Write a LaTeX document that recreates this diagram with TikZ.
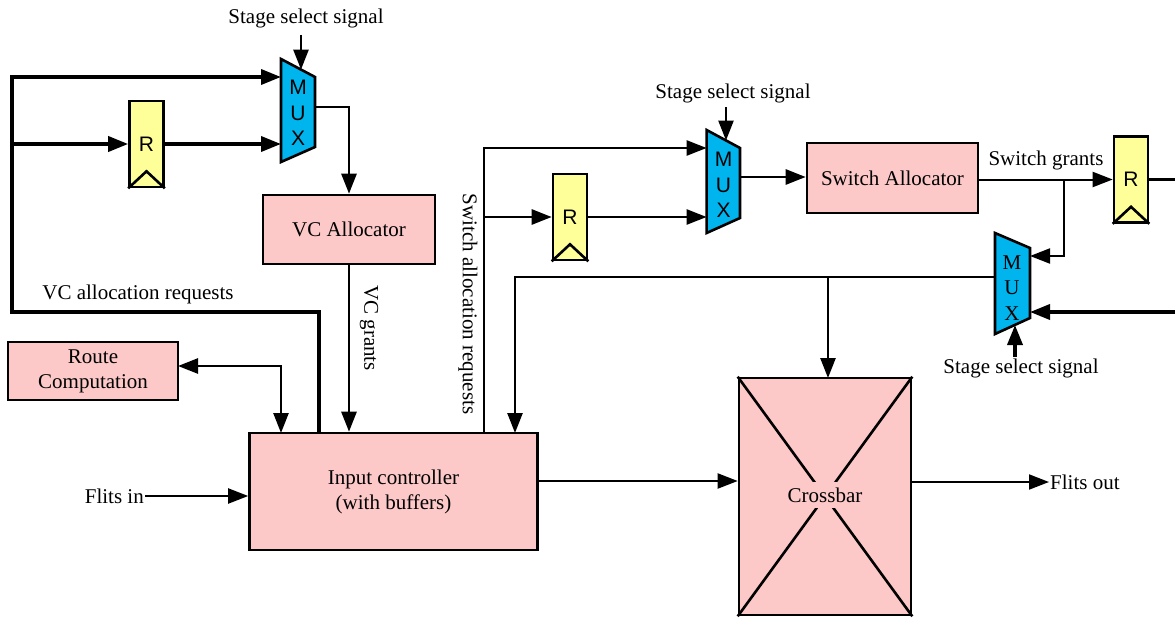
\documentclass[tikz,border=0pt]{standalone}
\usepackage{fontspec}
\setmainfont{Liberation Serif}
\newfontfamily\sansf{Liberation Sans}
\usetikzlibrary{arrows.meta,calc}
\definecolor{boxpink}{RGB}{252,200,200}
\definecolor{muxblue}{RGB}{0,180,238}
\definecolor{regyellow}{RGB}{255,255,153}
\begin{document}
\begin{tikzpicture}[x=1pt,y=-1pt,
  font=\fontsize{21}{25}\selectfont,
  >={Triangle[length=20pt,width=15pt]},
  block/.style={draw, line width=2.6pt, fill=boxpink, inner sep=0pt, align=center},
  reg/.style={draw, line width=2.6pt, fill=regyellow, minimum width=34pt, minimum height=86pt, inner sep=0pt, font=\sansf\fontsize{21}{25}\selectfont},
  muxshape/.style={draw, line width=2.6pt, fill=muxblue, line join=miter},
  muxlet/.style={inner sep=0pt, align=center, font=\sansf\fontsize{21}{25.5}\selectfont},
  muxletserif/.style={inner sep=0pt, align=center, font=\fontsize{21}{25.5}\selectfont},
  wire/.style={line width=2.6pt},
  thickwire/.style={line width=3.6pt},
  thinwire/.style={line width=2pt},
  lbl/.style={inner sep=1pt}]
\useasboundingbox (0,0) rectangle (1175,618);

% ---------- blocks ----------
\node[block, minimum width=172pt, minimum height=69pt] (vca) at (349,229.5) {VC Allocator};
\node[block, minimum width=171pt, minimum height=70pt] (sa) at (892.5,178) {Switch Allocator};
\node[block, minimum width=170pt, minimum height=58pt] (rc) at (93,371) {Route\\Computation};
\node[block, minimum width=288pt, minimum height=117pt] (ic) at (393.5,491.5) {Input controller\\(with buffers)};
\node[block, minimum width=172pt, minimum height=237pt] (cb) at (825,496.5) {};
\draw[wire] (cb.north west) -- (cb.south east);
\draw[wire] (cb.north east) -- (cb.south west);
\node[fill=boxpink, inner xsep=0pt, inner ysep=0pt, minimum height=26pt] (cbl) at (825,495) {Crossbar};

% ---------- registers ----------
\node[reg] (r1) at (146.5,144) {R};
\node[reg] (r2) at (570,217) {R};
\node[reg] (r3) at (1131,179.5) {R};
\foreach \r in {r1,r2,r3}{
  \draw[wire, line join=miter] (\r.south west) -- ($(\r.south)+(0,-17)$) -- (\r.south east);
}

% ---------- multiplexers ----------
\coordinate (m1tl) at (281,59);  \coordinate (m1tr) at (315,77);
\coordinate (m1br) at (315,147); \coordinate (m1bl) at (281,162);
\draw[muxshape] (m1tl) -- (m1tr) -- (m1br) -- (m1bl) -- cycle;
\node[muxlet] (m1l) at (298,113) {M\\U\\X};
\coordinate (m1in1) at (281,77);  \coordinate (m1in2) at (281,144);
\coordinate (m1out) at (315,107); \coordinate (m1sel) at (301,69.6);

\coordinate (m2tl) at (706.6,130); \coordinate (m2tr) at (740,148);
\coordinate (m2br) at (740,218);   \coordinate (m2bl) at (706.6,233);
\draw[muxshape] (m2tl) -- (m2tr) -- (m2br) -- (m2bl) -- cycle;
\node[muxlet] (m2l) at (723.5,185) {M\\U\\X};
\coordinate (m2in1) at (706.6,148); \coordinate (m2in2) at (706.6,217);
\coordinate (m2out) at (740,177);   \coordinate (m2sel) at (726,140.5);

\coordinate (m3tl) at (995,233);  \coordinate (m3tr) at (1030,248);
\coordinate (m3br) at (1030,318); \coordinate (m3bl) at (995,334);
\draw[muxshape] (m3tl) -- (m3tr) -- (m3br) -- (m3bl) -- cycle;
\node[muxletserif] (m3l) at (1012,288) {M\\U\\X};
\coordinate (m3in1) at (1030,256); \coordinate (m3in2) at (1030,312);
\coordinate (m3out) at (995,277);  \coordinate (m3sel) at (1015,325);

% ---------- labels ----------
\node[lbl] (ss1) at (306,18) {Stage select signal};
\node[lbl] (ss2) at (733,93) {Stage select signal};
\node[lbl] (ss3) at (1021,368) {Stage select signal};
\node[lbl] (vcr) at (138,294) {VC allocation requests};
\node[lbl, rotate=-90] (vcg) at (369,328) {VC grants};
\node[lbl, rotate=-90] (sar) at (468,304) {Switch allocation requests};
\node[lbl] (sg) at (1046,160) {Switch grants};
\node[lbl, anchor=east] (fin) at (145,496) {Flits in};
\node[lbl, anchor=west] (fout) at (1049,482) {Flits out};

% ---------- free-end coordinates ----------
\coordinate (ss1a) at (301,35);
\coordinate (ss2a) at (726,107);
\coordinate (ss3a) at (1015,357);
\coordinate (vqa) at (319,433);
\coordinate (rca) at (178,366);
\coordinate (ica) at (281,433);
\coordinate (sqa) at (484,433);
\coordinate (icb) at (515,433);
\coordinate (ico) at (537.5,481);
\coordinate (cbt) at (828,378);
\coordinate (r3o) at (1175,179.5);
\coordinate (m3src) at (1175,312);

% ---------- connectors: VC allocation stage ----------
\draw[thickwire,->] (vqa) -- (319,312) -- (12,312) -- (12,77) -- (m1in1);
\draw[thickwire,->] (12,144) -- (r1.west);
\draw[thickwire,->] (r1.east) -- (m1in2);
\draw[wire,->] (ss1a) -- (m1sel);
\draw[wire,->] (m1out) -| (vca.north);
\draw[wire,->] (vca.south) -- (vca.south |- ic.north);
\draw[wire,<->] (rca) -| (ica);
\draw[thinwire,->] (fin.east) -- (ic.west |- fin.east);
\draw[thinwire,->] (ico) -- (cb.west |- ico);

% ---------- connectors: switch allocation stage ----------
\draw[wire,->] (sqa) |- (m2in1);
\draw[wire,->] (484,217) -- (r2.west);
\draw[wire,->] (r2.east) -- (m2in2);
\draw[wire,->] (ss2a) -- (m2sel);
\draw[wire,->] (m2out) -- (sa.west |- m2out);
\draw[thinwire,->] (sa.east |- r3.west) -- (r3.west);
\draw[thinwire,->] (1064,179.5) |- (m3in1);
\draw[wire] (r3.east) -- (r3o);
\draw[thickwire,->] (m3src) -- (m3in2);
\draw[thickwire,->] (ss3a) -- (m3sel);
\draw[wire,->] (m3out) -| (icb);
\draw[wire,->] (828,277) -- (cbt);
\draw[thinwire,->] (cb.east |- fout.west) -- (fout.west);
\end{tikzpicture}
\end{document}
